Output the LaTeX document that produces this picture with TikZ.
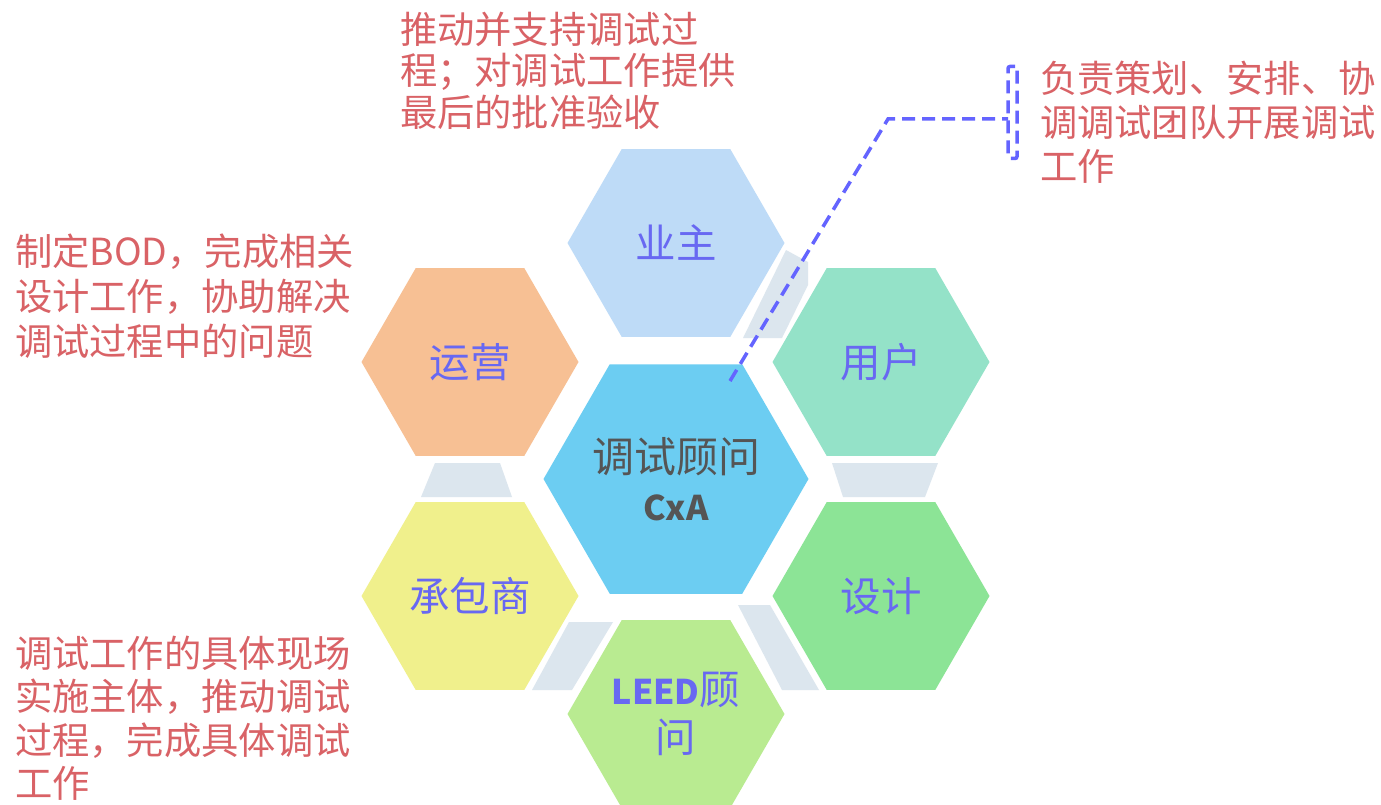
\documentclass[tikz,border=0pt]{standalone}
\usepackage{fontspec}
\usetikzlibrary{shapes.geometric}
\newfontfamily\cjk{Noto Sans CJK SC}
\definecolor{anno}{RGB}{217,98,102}
\definecolor{hexlabel}{RGB}{104,104,242}
\definecolor{cxtext}{RGB}{85,85,85}
\definecolor{dashblue}{RGB}{100,100,255}
\definecolor{gapgray}{RGB}{220,230,238}
\definecolor{cOwner}{RGB}{190,219,247}
\definecolor{cOps}{RGB}{247,192,148}
\definecolor{cUser}{RGB}{148,226,200}
\definecolor{cCx}{RGB}{108,205,242}
\definecolor{cCon}{RGB}{240,240,140}
\definecolor{cDes}{RGB}{140,228,150}
\definecolor{cLeed}{RGB}{185,235,145}
\tikzset{
  hexbox/.style={regular polygon, regular polygon sides=6, minimum size=217pt,
    inner sep=0pt, outer sep=0pt, draw=none},
  hexlabel/.style={inner sep=0pt, outer sep=0pt, text=hexlabel,
    font=\cjk\fontsize{40.5}{48}\selectfont, align=center},
  annotext/.style={anchor=north west, inner sep=0pt, outer sep=0pt, text=anno,
    align=left, font=\cjk\fontsize{37.3}{44}\selectfont},
  gapshape/.style={fill=gapgray},
  leader/.style={draw=dashblue, line width=3.5pt, dash pattern=on 13pt off 7pt},
}
\begin{document}
\begin{tikzpicture}[x=1pt,y=-1pt]
\useasboundingbox (0,0) rectangle (1381,805);
\fill[white] (0,0) rectangle (1381,805);
% gap shapes
\fill[gapshape] (786,250) -- (808,262) -- (808,285) -- (782,338) -- (743,338) -- cycle;
\fill[gapshape] (435,463) -- (500,463) -- (512,497) -- (421,497) -- cycle;
\fill[gapshape] (832,463) -- (938,463) -- (925,497) -- (843,497) -- cycle;
\fill[gapshape] (569,622) -- (613,622) -- (572,690) -- (532,690) -- cycle;
\fill[gapshape] (738,605) -- (770,605) -- (819,690) -- (782,690) -- cycle;
% hexagons
\node[hexbox, fill=cOwner] (owner) at (676,243) {};
\node[hexbox, fill=cOps] (ops) at (470,362) {};
\node[hexbox, fill=cUser] (user) at (881,362) {};
\node[hexbox, fill=cCon] (con) at (470,596) {};
\node[hexbox, fill=cDes] (des) at (881,596) {};
\node[hexbox, fill=cLeed] (leed) at (676,714) {};
\node[hexbox, fill=cCx, minimum size=265pt] (cx) at (676,479) {};
% hexagon labels
\node[hexlabel] (ownerL) at (owner) {业主};
\node[hexlabel] (opsL) at (ops) {运营};
\node[hexlabel] (userL) at (user) {用户};
\node[hexlabel] (conL) at (con) {承包商};
\node[hexlabel] (desL) at (des) {设计};
\node[hexlabel] (leedL) at (leed) {{\bfseries\fontsize{34}{48}\selectfont LEED}顾\\问};
\node[hexlabel, text=cxtext, font=\cjk\fontsize{42}{48}\selectfont] (cxL) at (cx) {调试顾问\\{\bfseries\fontsize{34}{48}\selectfont CxA}};
% annotations
\node[annotext, font=\cjk\fontsize{37.3}{41.5}\selectfont] (tOwner) at (400,12) {推动并支持调试过\\程；对调试工作提供\\最后的批准验收};
\node[annotext, font=\cjk\fontsize{37.3}{45}\selectfont] (tOps) at (15,234) {制定BOD，完成相关\\设计工作，协助解决\\调试过程中的问题};
\node[annotext, font=\cjk\fontsize{37.3}{43.5}\selectfont] (tCon) at (15,636) {调试工作的具体现场\\实施主体，推动调试\\过程，完成具体调试\\工作};
\node[annotext] (tCx) at (1040,61) {负责策划、安排、协\\调调试团队开展调试\\工作};
% leader line with bracket
\node[draw=dashblue, line width=3.5pt, dash pattern=on 13pt off 7pt, rounded corners=2pt,
  minimum width=9pt, minimum height=92pt, inner sep=0pt, outer sep=0pt] (br) at (1012.5,112.5) {};
\coordinate (ds) at (730,381);
\coordinate (bend) at (888,119);
\draw[leader] (ds) -- (bend) -- (br.west |- bend);
\end{tikzpicture}
\end{document}
